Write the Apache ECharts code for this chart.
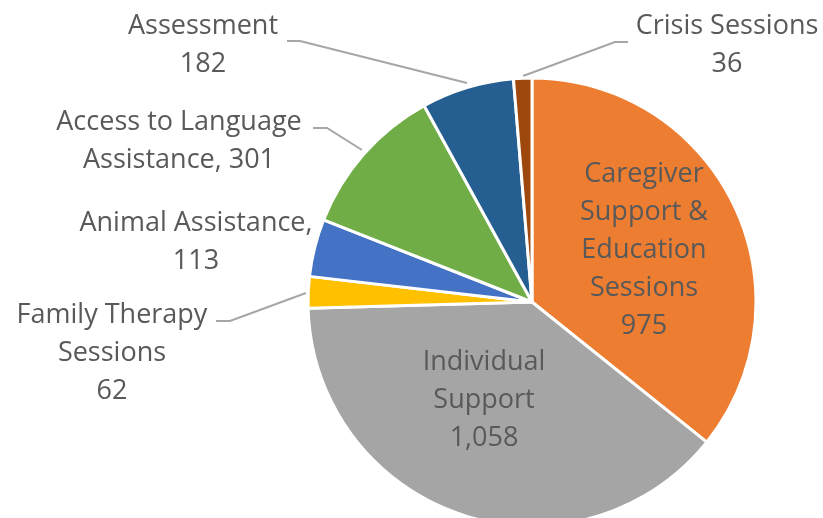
<!DOCTYPE html>
<html>
<head>
<meta charset="utf-8">
<script src="https://cdn.jsdelivr.net/npm/echarts@6/dist/echarts.min.js"></script>
<style>html,body{margin:0;padding:0;background:#fff;}#c{width:823px;height:518px;}</style>
</head>
<body>
<div id="c"></div>
<script>
var categories = ['Caregiver Support & Education Sessions', 'Individual Support', 'Family Therapy Sessions', 'Animal Assistance', 'Access to Language Assistance', 'Assessment', 'Crisis Sessions'];
var values = [975, 1058, 62, 113, 301, 182, 36];
var labelTexts = ['Caregiver\nSupport &\nEducation\nSessions\n975', 'Individual\nSupport\n1,058', 'Family Therapy\nSessions\n62', 'Animal Assistance,\n113', 'Access to Language\nAssistance, 301', 'Assessment\n182', 'Crisis Sessions\n36'];
var colors = ['#ED7D31', '#A5A5A5', '#FFC000', '#4472C4', '#70AD47', '#255E91', '#9E480E'];
var insideFlags = [true, true, false, false, false, false, false];

// label anchor layout (center of text block) and leader-line routes
var labelPos = [[644, 250], [484, 400], [112, 353], [196, 242], [179, 141], [203, 45], [727, 45]];
var leaderRoutes = [null, null,
  [[306, 293], [230, 321], [216, 321]],
  null,
  [[362, 150], [327, 128], [313, 128]],
  [[467, 83], [300, 41], [287, 41]],
  [[523, 76], [615, 42], [628, 42]]];

var chart = echarts.init(document.getElementById('c'));
var data = categories.map(function (name, i) {
  return {
    name: name,
    value: values[i],
    itemStyle: { color: colors[i] },
    label: {
      show: true,
      position: insideFlags[i] ? 'inside' : 'outside',
      formatter: labelTexts[i]
    },
    labelLine: { show: !!leaderRoutes[i] }
  };
});

chart.setOption({
  animation: false,
  series: [{
    type: 'pie',
    center: [532, 302],
    radius: 224,
    startAngle: 90,
    clockwise: true,
    avoidLabelOverlap: false,
    data: data,
    itemStyle: { borderColor: '#ffffff', borderWidth: 3 },
    label: {
      color: '#595959',
      fontFamily: 'Open Sans',
      fontSize: 27,
      lineHeight: 38,
      align: 'center'
    },
    labelLine: {
      lineStyle: { color: '#A6A6A6', width: 2 },
      length: 15,
      length2: 15
    },
    labelLayout: function (p) {
      var pos = labelPos[p.dataIndex];
      var out = { x: pos[0], y: pos[1], align: 'center', verticalAlign: 'middle' };
      if (leaderRoutes[p.dataIndex]) out.labelLinePoints = leaderRoutes[p.dataIndex];
      return out;
    }
  }]
});
</script>
</body>
</html>
